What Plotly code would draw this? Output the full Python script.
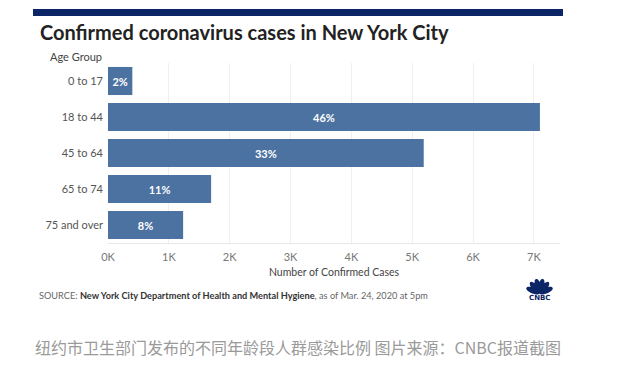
import numpy as np
import plotly.graph_objects as go

# ---- data ----
age_groups = ["0 to 17", "18 to 44", "45 to 64", "65 to 74", "75 and over"]
cases = [400, 7100, 5190, 1695, 1235]
shares = ["2%", "46%", "33%", "11%", "8%"]
tick_vals = [0, 1000, 2000, 3000, 4000, 5000, 6000, 7000]
tick_text = ["0K", "1K", "2K", "3K", "4K", "5K", "6K", "7K"]

W, H = 621, 374
L, R, T, B = 108, 61, 63, 131
PW, PH = W - L - R, H - T - B


def px(x):
    return (x - L) / PW


def py(y):
    return (H - B - y) / PH


BAR = "#4b72a0"
NAVY = "#0b2566"

fig = go.Figure()
fig.add_trace(go.Bar(
    y=age_groups, x=cases, orientation="h",
    marker=dict(color=BAR, line=dict(width=0)),
    text=shares, textposition="inside", insidetextanchor="middle",
    constraintext="none",
    textfont=dict(family="Lato, Open Sans, sans-serif", size=11, color="white", weight="bold"),
    hoverinfo="skip",
))

shapes = [
    dict(type="rect", xref="paper", yref="paper", x0=px(33), x1=px(563), y0=py(16), y1=py(9),
         fillcolor=NAVY, line=dict(width=0), layer="above"),
]

# CNBC peacock (decorative logo)
cx, cy = 539.5, 293.5
for ang in np.linspace(158, 22, 6):
    a = np.radians(ang)
    mx, my = cx + 7.0 * np.cos(a), cy - 7.8 * np.sin(a)
    t = np.linspace(0, 2 * np.pi, 24)
    ex = 7.2 * np.cos(t)
    ey = 3.0 * np.sin(t)
    xs = mx + ex * np.cos(a) - ey * np.sin(a)
    ys = my - (ex * np.sin(a) + ey * np.cos(a))
    path = "M " + " L ".join(f"{px(x):.5f},{py(y):.5f}" for x, y in zip(xs, ys)) + " Z"
    shapes.append(dict(type="path", xref="paper", yref="paper", path=path,
                       fillcolor=NAVY, line=dict(width=0)))

annotations = [
    dict(text="Confirmed coronavirus cases in New York City", xref="paper", yref="paper",
         x=px(38), y=py(32), xanchor="left", yanchor="middle", showarrow=False,
         font=dict(family="Lato, sans-serif", size=20, color="#222222", weight="bold")),
    dict(text="Age Group", xref="paper", yref="paper",
         x=px(104), y=py(57), xanchor="right", yanchor="middle", showarrow=False,
         font=dict(family="Lato, sans-serif", size=11, color="#444444")),
    dict(text="SOURCE: <b><span style='color:#333333'>New York City Department of Health and Mental Hygiene</span></b>, as of Mar. 24, 2020 at 5pm",
         xref="paper", yref="paper", x=px(37), y=py(295), xanchor="left", yanchor="middle",
         showarrow=False, font=dict(family="Lato, sans-serif", size=9.2, color="#666666")),
    dict(text="<b>CNBC</b>", xref="paper", yref="paper", x=px(539.5), y=py(298), xanchor="center",
         yanchor="middle", showarrow=False,
         font=dict(family="DejaVu Sans, sans-serif", size=7, color=NAVY)),
    dict(text="纽约市卫生部门发布的不同年龄段人群感染比例 图片来源：CNBC报道截图", xref="paper", yref="paper",
         x=px(33), y=py(347), xanchor="left", yanchor="middle", showarrow=False,
         font=dict(family="Noto Sans CJK SC", size=16, color="#9a9a9a")),
]

fig.update_layout(
    width=W, height=H,
    margin=dict(l=L, r=R, t=T, b=B, pad=0),
    paper_bgcolor="white", plot_bgcolor="white",
    bargap=0.22, showlegend=False,
    font=dict(family="Lato, sans-serif"),
    xaxis=dict(range=[0, 7430], tickvals=tick_vals, ticktext=tick_text,
               showgrid=True, gridcolor="#efefef", gridwidth=1, zeroline=False,
               showline=True, linecolor="#e8e8e8", linewidth=1,
               ticks="", ticklabelstandoff=4,
               tickfont=dict(family="Lato, sans-serif", size=11, color="#777777"),
               title=dict(text="Number of Confirmed Cases", standoff=6,
                          font=dict(family="Lato, sans-serif", size=10.5, color="#444444"))),
    yaxis=dict(categoryorder="array", categoryarray=age_groups[::-1],
               showgrid=False, zeroline=False, showline=False, ticks="",
               ticklabelstandoff=4,
               tickfont=dict(family="Lato, sans-serif", size=11, color="#555555")),
    shapes=shapes, annotations=annotations,
)

fig.write_html("out.html", config={"displayModeBar": False, "staticPlot": True},
               post_script="document.body.style.margin='0';")
